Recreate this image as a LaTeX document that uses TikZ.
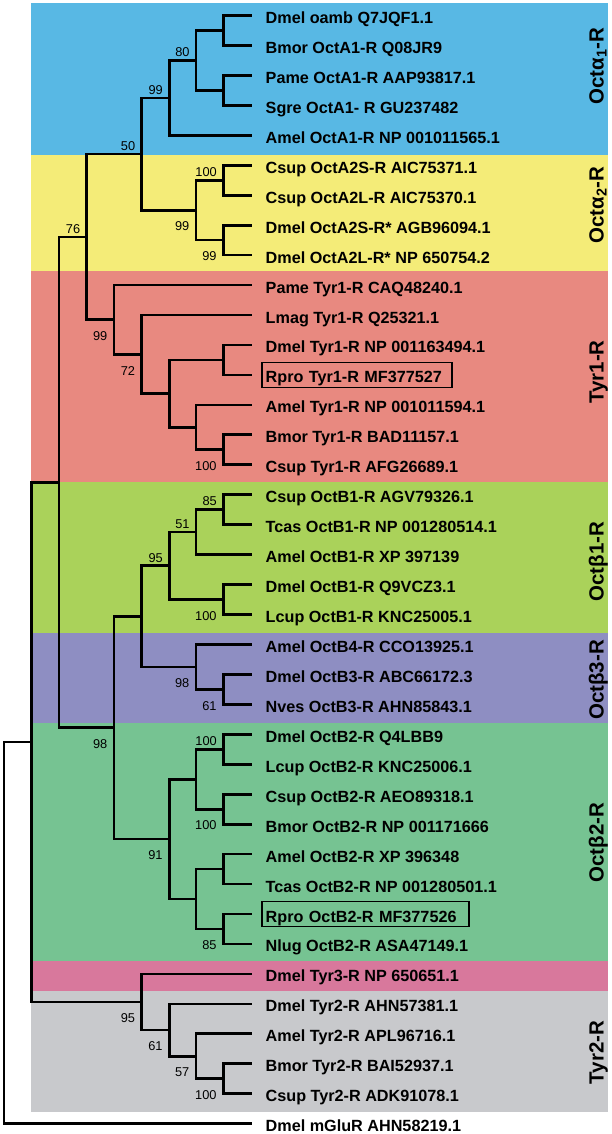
\documentclass[tikz,border=0pt]{standalone}
\usepackage{fontspec}
\setmainfont{Liberation Sans}
\definecolor{octaone}{HTML}{58B8E4}
\definecolor{octatwo}{HTML}{F4EC78}
\definecolor{tyrone}{HTML}{E88980}
\definecolor{octbone}{HTML}{AAD25A}
\definecolor{octbthree}{HTML}{8E8EC2}
\definecolor{octbtwo}{HTML}{76C392}
\definecolor{tyrthree}{HTML}{D8789C}
\definecolor{tyrtwo}{HTML}{C8C9CC}

\begin{document}
\begin{tikzpicture}[x=1pt,y=-1pt,
  branch/.style={line width=2.7pt},
  leaf/.style={anchor=west, inner xsep=14pt, inner ysep=0pt, outer sep=0pt,
    text height=16pt, text depth=0pt, font=\bfseries\fontsize{16.2}{19}\selectfont},
  boxed/.style={leaf, draw, line width=1.6pt, inner xsep=4pt, inner ysep=2pt,
    outer xsep=10pt, outer ysep=0pt, text height=18.5pt, text depth=2.5pt, align=left},
  boot/.style={inner sep=0pt, text height=9.2pt, text depth=0pt, font=\fontsize{12.8}{14}\selectfont},
  bootup/.style={boot, anchor=south east, xshift=-6.3pt, yshift=3.6pt},
  bootdn/.style={boot, anchor=north east, xshift=-6.5pt, yshift=-11.3pt},
  clade/.style={rotate=90, anchor=base, font=\bfseries\fontsize{20.5}{23}\selectfont}]
  \useasboundingbox (0,0) rectangle (611,1134);

  % receptor class bands
  \fill[octaone]   (30.7,3)     rectangle (608,155);
  \fill[octatwo]   (30.7,155)   rectangle (608,270.7);
  \fill[tyrone]    (30.7,270.7) rectangle (608,482);
  \fill[octbone]   (30.7,482)   rectangle (608,633);
  \fill[octbthree] (30.7,633)   rectangle (608,723);
  \fill[octbtwo]   (30.7,723)   rectangle (608,960.7);
  \fill[tyrthree]  (30.7,960.7) rectangle (608,991);
  \fill[tyrtwo]    (30.7,991)   rectangle (608,1111.7);

  % leaves
  \node[leaf] (l1)  at (251.7,15.5)   {Dmel oamb Q7JQF1.1};
  \node[leaf] (l2)  at (251.7,45.45)  {Bmor OctA1-R Q08JR9};
  \node[leaf] (l3)  at (251.7,75.4)   {Pame OctA1-R AAP93817.1};
  \node[leaf] (l4)  at (251.7,105.35) {Sgre OctA1- R GU237482};
  \node[leaf] (l5)  at (251.7,135.3)  {Amel OctA1-R NP 001011565.1};
  \node[leaf] (l6)  at (251.7,165.25) {Csup OctA2S-R AIC75371.1};
  \node[leaf] (l7)  at (251.7,195.2)  {Csup OctA2L-R AIC75370.1};
  \node[leaf] (l8)  at (251.7,225.15) {Dmel OctA2S-R* AGB96094.1};
  \node[leaf] (l9)  at (251.7,255.1)  {Dmel OctA2L-R* NP 650754.2};
  \node[leaf] (l10) at (251.7,285.05) {Pame Tyr1-R CAQ48240.1};
  \node[leaf] (l11) at (251.7,315)    {Lmag Tyr1-R Q25321.1};
  \node[leaf] (l12) at (251.7,344.95) {Dmel Tyr1-R NP 001163494.1};
  \node[boxed, text width=182pt] (l13) at (251.7,374.9) {Rpro Tyr1-R MF377527};
  \node[leaf] (l14) at (251.7,404.85) {Amel Tyr1-R NP 001011594.1};
  \node[leaf] (l15) at (251.7,434.8)  {Bmor Tyr1-R BAD11157.1};
  \node[leaf] (l16) at (251.7,464.75) {Csup Tyr1-R AFG26689.1};
  \node[leaf] (l17) at (251.7,494.7)  {Csup OctB1-R AGV79326.1};
  \node[leaf] (l18) at (251.7,524.65) {Tcas OctB1-R NP 001280514.1};
  \node[leaf] (l19) at (251.7,554.6)  {Amel OctB1-R XP 397139};
  \node[leaf] (l20) at (251.7,584.55) {Dmel OctB1-R Q9VCZ3.1};
  \node[leaf] (l21) at (251.7,614.5)  {Lcup OctB1-R KNC25005.1};
  \node[leaf] (l22) at (251.7,644.45) {Amel OctB4-R CCO13925.1};
  \node[leaf] (l23) at (251.7,674.4)  {Dmel OctB3-R ABC66172.3};
  \node[leaf] (l24) at (251.7,704.35) {Nves OctB3-R AHN85843.1};
  \node[leaf] (l25) at (251.7,734.3)  {Dmel OctB2-R Q4LBB9};
  \node[leaf] (l26) at (251.7,764.25) {Lcup OctB2-R KNC25006.1};
  \node[leaf] (l27) at (251.7,794.2)  {Csup OctB2-R AEO89318.1};
  \node[leaf] (l28) at (251.7,824.15) {Bmor OctB2-R NP 001171666};
  \node[leaf] (l29) at (251.7,854.1)  {Amel OctB2-R XP 396348};
  \node[leaf] (l30) at (251.7,884.05) {Tcas OctB2-R NP 001280501.1};
  \node[boxed, text width=199.3pt] (l31) at (251.7,914) {Rpro OctB2-R MF377526};
  \node[leaf] (l32) at (251.7,943.95) {Nlug OctB2-R ASA47149.1};
  \node[leaf] (l33) at (251.7,973.9)  {Dmel Tyr3-R NP 650651.1};
  \node[leaf] (l34) at (251.7,1003.85) {Dmel Tyr2-R AHN57381.1};
  \node[leaf] (l35) at (251.7,1033.8) {Amel Tyr2-R APL96716.1};
  \node[leaf] (l36) at (251.7,1063.75) {Bmor Tyr2-R BAI52937.1};
  \node[leaf] (l37) at (251.7,1093.7) {Csup Tyr2-R ADK91078.1};
  \node[leaf] (l38) at (251.7,1123.65) {Dmel mGluR AHN58219.1};

  % internal nodes
  \coordinate (a1)   at (223.3,30.5);
  \coordinate (a2)   at (223.3,90.4);
  \coordinate (a80)  at (196,60.45);
  \coordinate (a99)  at (169.3,97.9);
  \coordinate (b1)   at (223.3,180.2);
  \coordinate (b2)   at (223.3,240.1);
  \coordinate (b99)  at (196,210.15);
  \coordinate (a50)  at (141.7,154);
  \coordinate (t1)   at (223.3,359.9);
  \coordinate (t2)   at (223.3,449.8);
  \coordinate (t3)   at (196,427.3);
  \coordinate (t4)   at (169.3,393.6);
  \coordinate (t72)  at (141.7,354.3);
  \coordinate (t99)  at (114,319.7);
  \coordinate (a76)  at (86.7,236.85);
  \coordinate (c1)   at (223.3,509.7);
  \coordinate (c51)  at (196,532.1);
  \coordinate (c2)   at (223.3,599.5);
  \coordinate (c95)  at (169.3,565.8);
  \coordinate (d1)   at (223.3,689.4);
  \coordinate (d98)  at (196,666.9);
  \coordinate (cd)   at (141.7,616.35);
  \coordinate (e1)   at (223.3,749.3);
  \coordinate (e2)   at (223.3,809.2);
  \coordinate (e3)   at (196,779.2);
  \coordinate (e4)   at (223.3,869.1);
  \coordinate (e5)   at (223.3,929);
  \coordinate (e6)   at (196,899);
  \coordinate (e91)  at (169.3,839.1);
  \coordinate (b98)  at (114,727.7);
  \coordinate (g1)   at (58.9,482.3);
  \coordinate (f1)   at (223.3,1078.7);
  \coordinate (f57)  at (196,1056.25);
  \coordinate (f61)  at (169.3,1030.05);
  \coordinate (f95)  at (141.7,1002);
  \coordinate (ing)  at (31.7,742.1);
  \coordinate (root) at (4,932.9);

  % branches
  \draw[branch] (l1.west) -| (a1) |- (l2.west);
  \draw[branch] (l3.west) -| (a2) |- (l4.west);
  \draw[branch] (a1) -| (a80) |- (a2);
  \draw[branch] (a80) -| (a99) |- (l5.west);
  \draw[branch] (l6.west) -| (b1) |- (l7.west);
  \draw[branch] (l8.west) -| (b2) |- (l9.west);
  \draw[branch] (b1) -| (b99) |- (b2);
  \draw[branch] (a99) -| (a50) |- (b99);
  \draw[branch] (l12.west) -| (t1) |- (l13.west);
  \draw[branch] (l15.west) -| (t2) |- (l16.west);
  \draw[branch] (l14.west) -| (t3) |- (t2);
  \draw[branch] (t1) -| (t4) |- (t3);
  \draw[branch] (l11.west) -| (t72) |- (t4);
  \draw[branch] (l10.west) -| (t99) |- (t72);
  \draw[branch] (a50) -| (a76) |- (t99);
  \draw[branch] (l17.west) -| (c1) |- (l18.west);
  \draw[branch] (c1) -| (c51) |- (l19.west);
  \draw[branch] (l20.west) -| (c2) |- (l21.west);
  \draw[branch] (c51) -| (c95) |- (c2);
  \draw[branch] (l23.west) -| (d1) |- (l24.west);
  \draw[branch] (l22.west) -| (d98) |- (d1);
  \draw[branch] (c95) -| (cd) |- (d98);
  \draw[branch] (l25.west) -| (e1) |- (l26.west);
  \draw[branch] (l27.west) -| (e2) |- (l28.west);
  \draw[branch] (e1) -| (e3) |- (e2);
  \draw[branch] (l29.west) -| (e4) |- (l30.west);
  \draw[branch] (l31.west) -| (e5) |- (l32.west);
  \draw[branch] (e4) -| (e6) |- (e5);
  \draw[branch] (e3) -| (e91) |- (e6);
  \draw[branch] (cd) -| (b98) |- (e91);
  \draw[branch] (a76) -| (g1) |- (b98);
  \draw[branch] (l36.west) -| (f1) |- (l37.west);
  \draw[branch] (l35.west) -| (f57) |- (f1);
  \draw[branch] (l34.west) -| (f61) |- (f57);
  \draw[branch] (l33.west) -| (f95) |- (f61);
  \draw[branch] (g1) -| (ing) |- (f95);
  \draw[branch] (ing) -| (root) |- (l38.west);

  % bootstrap values
  \node[bootup] (s80)  at (a80) {80};
  \node[bootup] (s99a) at (a99) {99};
  \node[bootup] (s50)  at (a50) {50};
  \node[bootup] (s100a) at (b1) {100};
  \node[bootup] (s76)  at (a76) {76};
  \node[bootup] (s95a) at (c95) {95};
  \node[bootup] (s51)  at (c51) {51};
  \node[bootup] (s85a) at (c1) {85};
  \node[bootup] (s100b) at (e1) {100};
  \node[bootdn] (s99b) at (b99) {99};
  \node[bootdn] (s99c) at (b2) {99};
  \node[bootdn] (s99d) at (t99) {99};
  \node[bootdn] (s72)  at (t72) {72};
  \node[bootdn] (s100c) at (t2) {100};
  \node[bootdn] (s100d) at (c2) {100};
  \node[bootdn] (s98a) at (d98) {98};
  \node[bootdn] (s61a) at (d1) {61};
  \node[bootdn] (s98b) at (b98) {98};
  \node[bootdn] (s100e) at (e2) {100};
  \node[bootdn] (s91)  at (e91) {91};
  \node[bootdn] (s85b) at (e5) {85};
  \node[bootdn] (s95b) at (f95) {95};
  \node[bootdn] (s61b) at (f61) {61};
  \node[bootdn] (s57)  at (f57) {57};
  \node[bootdn] (s100f) at (f1) {100};

  % class names
  \node[clade] (k1) at (603.5,66)    {Octα\textsubscript{1}-R};
  \node[clade] (k2) at (603.5,205)   {Octα\textsubscript{2}-R};
  \node[clade] (k3) at (603.5,372)   {Tyr1-R};
  \node[clade] (k4) at (603.5,561.7) {Octβ1-R};
  \node[clade] (k5) at (603.5,680)   {Octβ3-R};
  \node[clade] (k6) at (603.5,842.5) {Octβ2-R};
  \node[clade] (k7) at (603.5,1052.5) {Tyr2-R};
\end{tikzpicture}
\end{document}
